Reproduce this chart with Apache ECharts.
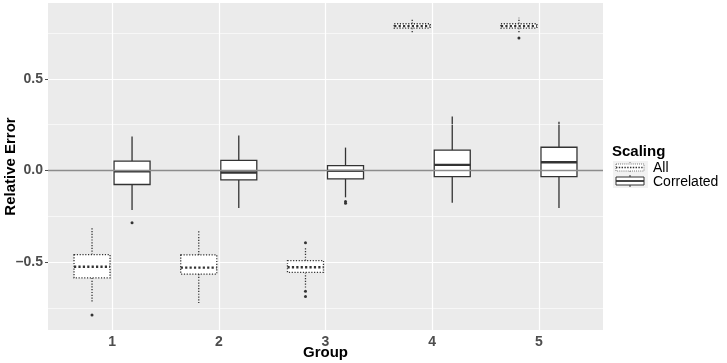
<!DOCTYPE html>
<html>
<head>
<meta charset="utf-8">
<script src="https://cdn.jsdelivr.net/npm/echarts@6/dist/echarts.min.js"></script>
<style>
  html, body { margin: 0; padding: 0; background: #fff; }
  #chart { width: 727px; height: 363px; }
</style>
</head>
<body>
<div id="chart"></div>
<script>
// groups on the x axis
const groups = [1, 2, 3, 4, 5];
// box stats per group: [min, q1, median, q3, max]
const allStats = [
  [-0.718, -0.585, -0.524, -0.458, -0.311],
  [-0.722, -0.564, -0.529, -0.460, -0.324],
  [-0.637, -0.555, -0.527, -0.491, -0.420],
  [0.746, 0.776, 0.787, 0.800, 0.828],
  [0.749, 0.776, 0.787, 0.800, 0.833]
];
const corrStats = [
  [-0.215, -0.076, -0.004, 0.051, 0.185],
  [-0.204, -0.051, -0.011, 0.055, 0.191],
  [-0.146, -0.045, -0.002, 0.027, 0.125],
  [-0.176, -0.033, 0.031, 0.111, 0.295],
  [-0.204, -0.033, 0.045, 0.127, 0.266]
];
// outliers: [group, value]
const allOutliers = [[1, -0.787], [3, -0.393], [3, -0.658], [3, -0.686], [5, 0.722]];
const corrOutliers = [[1, -0.284], [3, -0.169], [3, -0.178]];
const yTicks = [-0.5, 0, 0.5];
const yMinor = [-0.75, -0.25, 0.25, 0.75];

const boxColor = '#333333';
const dodge = 0.1875;
const boxW = 0.3375;

const chart = echarts.init(document.getElementById('chart'), null, {renderer: 'canvas'});

function boxRender(offset, dotted) {
  return function (params, api) {
    const x = api.value(0) + offset;
    const lo = api.coord([x, api.value(1)]);
    const q1 = api.coord([x, api.value(2)]);
    const med = api.coord([x, api.value(3)]);
    const q3 = api.coord([x, api.value(4)]);
    const hi = api.coord([x, api.value(5)]);
    const half = api.size([boxW, 0])[0] / 2;
    const base = {stroke: boxColor, lineWidth: 1.3, lineDash: dotted ? [1.2, 1.6] : null, fill: null};
    return {
      type: 'group',
      children: [
        {type: 'line', shape: {x1: q3[0], y1: q3[1], x2: hi[0], y2: hi[1]}, style: base},
        {type: 'line', shape: {x1: q1[0], y1: q1[1], x2: lo[0], y2: lo[1]}, style: base},
        {type: 'rect', shape: {x: q3[0] - half, y: q3[1], width: half * 2, height: q1[1] - q3[1]},
          style: Object.assign({}, base, {fill: '#ffffff'})},
        {type: 'line', shape: {x1: med[0] - half, y1: med[1], x2: med[0] + half, y2: med[1]},
          style: {stroke: boxColor, lineWidth: 2.4, lineDash: dotted ? [2.2, 2.2] : null}}
      ]
    };
  };
}

function outlierRender(offset) {
  return function (params, api) {
    const p = api.coord([api.value(0) + offset, api.value(1)]);
    return {type: 'circle', shape: {cx: p[0], cy: p[1], r: 1.5}, style: {fill: boxColor}};
  };
}

const labelStyle = {color: '#4D4D4D', fontSize: 14, fontWeight: 'bold', fontFamily: 'Liberation Sans'};
const nameStyle = {color: '#000', fontSize: 15, fontWeight: 'bold', fontFamily: 'Liberation Sans'};

const option = {
  animation: false,
  grid: {left: 48, top: 3, right: 124, bottom: 33, show: true, backgroundColor: '#EBEBEB',
    borderWidth: 0, outerBoundsMode: 'none', containLabel: false},
  xAxis: {
    type: 'value', min: 0.4, max: 5.6,
    name: 'Group', nameLocation: 'middle', nameGap: 15, nameMoveOverlap: false,
    nameTextStyle: nameStyle,
    axisLine: {show: false},
    axisTick: {show: true, length: 3, customValues: groups, lineStyle: {color: '#4D4D4D'}},
    axisLabel: Object.assign({customValues: groups, margin: 5}, labelStyle),
    splitLine: {show: false}
  },
  yAxis: {
    type: 'value', min: -0.869, max: 0.913,
    name: 'Relative Error', nameLocation: 'middle', nameGap: 30, nameMoveOverlap: false,
    nameTextStyle: nameStyle,
    axisLine: {show: false},
    axisTick: {show: true, length: 3, customValues: yTicks, lineStyle: {color: '#4D4D4D'}},
    axisLabel: Object.assign({customValues: yTicks, margin: 5,
      formatter: v => (v < 0 ? '\u2013' : '') + Math.abs(v).toFixed(1)}, labelStyle),
    splitLine: {show: false}
  },
  graphic: [
    {type: 'text', left: 612, top: 144, style: {text: 'Scaling', fontSize: 15, fontWeight: 'bold', fill: '#000', fontFamily: 'Liberation Sans'}},
    {type: 'rect', shape: {x: 613, y: 161, width: 35, height: 13}, style: {fill: '#F2F2F2'}},
    {type: 'rect', shape: {x: 613, y: 174, width: 35, height: 14}, style: {fill: '#F2F2F2'}},
    {type: 'rect', shape: {x: 616, y: 164, width: 28, height: 7}, style: {fill: '#fff', stroke: boxColor, lineWidth: 0.8, lineDash: [0.8, 1.3]}},
    {type: 'line', shape: {x1: 630, y1: 162, x2: 630, y2: 164}, style: {stroke: boxColor, lineWidth: 0.8, lineDash: [0.8, 1.3]}},
    {type: 'line', shape: {x1: 630, y1: 171, x2: 630, y2: 173}, style: {stroke: boxColor, lineWidth: 0.8, lineDash: [0.8, 1.3]}},
    {type: 'line', shape: {x1: 616, y1: 167.5, x2: 644, y2: 167.5}, style: {stroke: boxColor, lineWidth: 1.4, lineDash: [1.4, 1.4]}},
    {type: 'rect', shape: {x: 616, y: 177, width: 28, height: 8}, style: {fill: '#fff', stroke: boxColor, lineWidth: 1}},
    {type: 'line', shape: {x1: 630, y1: 175, x2: 630, y2: 177}, style: {stroke: boxColor, lineWidth: 1}},
    {type: 'line', shape: {x1: 630, y1: 185, x2: 630, y2: 187}, style: {stroke: boxColor, lineWidth: 1}},
    {type: 'line', shape: {x1: 616, y1: 181, x2: 644, y2: 181}, style: {stroke: boxColor, lineWidth: 1.8}},
    {type: 'text', left: 653, top: 161, style: {text: 'All', fontSize: 14, fill: '#000', fontFamily: 'Liberation Sans'}},
    {type: 'text', left: 653, top: 175, style: {text: 'Correlated', fontSize: 14, fill: '#000', fontFamily: 'Liberation Sans'}}
  ],
  series: [
    {
      type: 'line', data: [], silent: true, z: 1,
      markLine: {
        silent: true, symbol: 'none', label: {show: false}, animation: false,
        data: [].concat(
          yMinor.map(v => ({yAxis: v, lineStyle: {color: '#fff', width: 0.6, type: 'solid'}})),
          yTicks.map(v => ({yAxis: v, lineStyle: {color: '#fff', width: 1.2, type: 'solid'}})),
          groups.map(v => ({xAxis: v, lineStyle: {color: '#fff', width: 1.2, type: 'solid'}})),
          [{yAxis: 0, lineStyle: {color: '#8C8C8C', width: 1.3, type: 'solid'}}]
        )
      }
    },
    {
      name: 'All', type: 'custom', z: 3,
      renderItem: boxRender(-dodge, true),
      data: groups.map((g, i) => [g].concat(allStats[i]))
    },
    {
      name: 'Correlated', type: 'custom', z: 3,
      renderItem: boxRender(dodge, false),
      data: groups.map((g, i) => [g].concat(corrStats[i]))
    },
    {type: 'custom', z: 4, renderItem: outlierRender(-dodge), data: allOutliers},
    {type: 'custom', z: 4, renderItem: outlierRender(dodge), data: corrOutliers}
  ]
};
chart.setOption(option);
</script>
</body>
</html>
